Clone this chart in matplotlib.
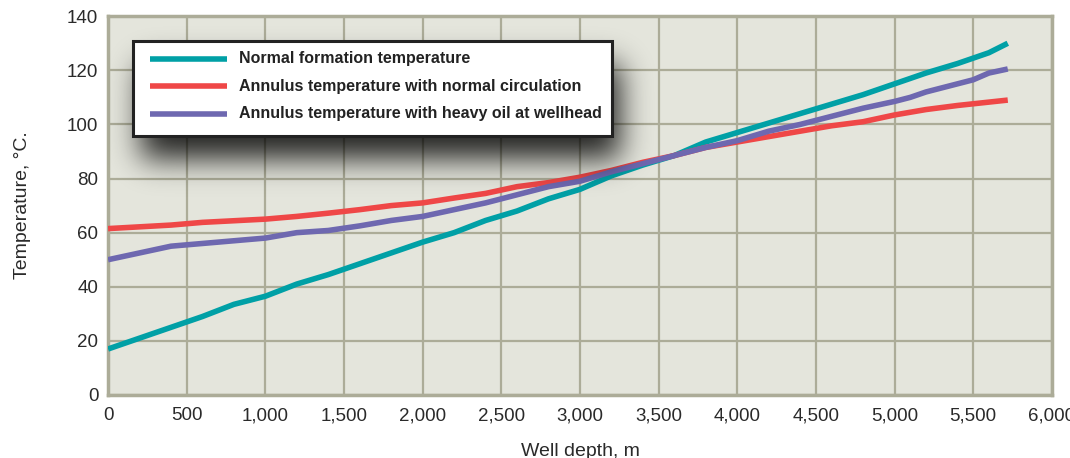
import numpy as np
import matplotlib.pyplot as plt

# dane
depth_formation = [0, 200, 400, 600, 800, 1000, 1200, 1400, 1600, 1800, 2000, 2200, 2400, 2600,
                   2800, 3000, 3200, 3400, 3600, 3800, 4000, 4200, 4400, 4600, 4800, 5000, 5200,
                   5400, 5600, 5720]
temp_formation = [17, 21, 25, 29, 33.5, 36.5, 41, 44.5, 48.5, 52.5, 56.5, 60, 64.5, 68,
                  72.5, 76, 81, 85, 88.5, 93.5, 97, 100.5, 104, 107.5, 111, 115, 119,
                  122.5, 126.5, 130]

depth_normal = [0, 400, 600, 1000, 1200, 1400, 1600, 1800, 2000, 2200, 2400, 2600, 2800, 3000,
                3200, 3400, 3600, 3800, 4000, 4200, 4400, 4600, 4800, 5000, 5200, 5400, 5720]
temp_normal = [61.5, 62.8, 63.8, 65, 66, 67.2, 68.5, 70, 71, 72.8, 74.5, 77, 78.5, 80.5,
               83, 86, 88.5, 91.5, 93.5, 95.5, 97.5, 99.5, 101, 103.5, 105.5, 107, 109]

depth_heavy = [0, 200, 400, 600, 800, 1000, 1200, 1400, 1600, 1800, 2000, 2200, 2400, 2600,
               2800, 3000, 3200, 3400, 3600, 3800, 4000, 4200, 4400, 4600, 4800, 5000, 5100,
               5200, 5400, 5500, 5600, 5720]
temp_heavy = [50, 52.5, 55, 56, 57, 58, 60, 60.8, 62.5, 64.5, 66, 68.5, 71, 74,
              77, 79, 82.5, 85.5, 88.5, 91.5, 94, 97.5, 100, 103, 106, 108.5, 110,
              112, 115, 116.5, 119, 120.5]

labels = ['Normal formation temperature',
          'Annulus temperature with normal circulation',
          'Annulus temperature with heavy oil at wellhead']
colors = ['#00a0a6', '#ef4747', '#6e68b0']

x_ticks = [0, 500, 1000, 1500, 2000, 2500, 3000, 3500, 4000, 4500, 5000, 5500, 6000]
y_ticks = [0, 20, 40, 60, 80, 100, 120, 140]

plt.rcParams['font.family'] = ['Liberation Sans', 'DejaVu Sans']

fig = plt.figure(figsize=(10.7, 4.58), dpi=100)
ax = fig.add_axes([0.101, 0.1376, 0.882, 0.827])
ax.set_facecolor('#e4e5dc')

grid_col = '#acac98'
ax.set_xticks(x_ticks)
ax.set_xticklabels(['{:,}'.format(v) for v in x_ticks])
ax.set_yticks(y_ticks)
ax.grid(True, color=grid_col, linewidth=1.6)
ax.set_axisbelow(True)
for s in ax.spines.values():
    s.set_color(grid_col)
    s.set_linewidth(2.5)
ax.tick_params(length=0, labelsize=13.5, colors='#2a2a2a')
ax.tick_params(axis='y', pad=7)
ax.tick_params(axis='x', pad=9)

ax.plot(depth_formation, temp_formation, color=colors[0], lw=4, solid_capstyle='butt', zorder=3)
ax.plot(depth_normal, temp_normal, color=colors[1], lw=4, solid_capstyle='butt', zorder=3)
ax.plot(depth_heavy, temp_heavy, color=colors[2], lw=4, solid_capstyle='butt', zorder=3)

ax.set_xlabel('Well depth, m', fontsize=14, color='#2a2a2a', labelpad=13)
ax.set_ylabel('Temperature, °C.', fontsize=14, color='#2a2a2a', labelpad=26)

# legenda (wspolrzedne osi)
lx0, ly0, lw, lh = 0.0265, 0.684, 0.508, 0.25

# rozmyty cien pod legenda - maska w pikselach + rozmycie gaussa
W, H = 944, 378.5
pad = 80
nx = int(lw * W) + 2 * pad
ny = int(lh * H) + 2 * pad
mask = np.zeros((ny, nx))
offx, offy = 8, 24
mask[pad + offy:pad + offy + int(lh * H), pad + offx:pad + offx + int(lw * W)] = 1.0
sig = 15
k = np.exp(-0.5 * (np.arange(-3 * sig, 3 * sig + 1) / sig) ** 2)
k /= k.sum()
mask = np.apply_along_axis(lambda r: np.convolve(r, k, mode='same'), 1, mask)
mask = np.apply_along_axis(lambda c: np.convolve(c, k, mode='same'), 0, mask)
rgba = np.zeros((ny, nx, 4))
rgba[..., 3] = mask * 0.85
ex0 = lx0 - pad / W
ex1 = ex0 + nx / W
ey1 = ly0 + lh + pad / H
ey0 = ey1 - ny / H
ax.imshow(rgba, extent=(ex0, ex1, ey0, ey1), transform=ax.transAxes,
          origin='upper', aspect='auto', zorder=4, interpolation='bilinear')

ax.set_xlim(0, 6000)
ax.set_ylim(0, 140)

box = plt.Rectangle((lx0, ly0), lw, lh, transform=ax.transAxes, facecolor='white',
                    edgecolor='#222222', linewidth=2.2, zorder=5)
ax.add_patch(box)
for i in range(3):
    yy = ly0 + lh - 0.046 - i * 0.0727
    ax.plot([lx0 + 0.018, lx0 + 0.1], [yy, yy], transform=ax.transAxes,
            color=colors[i], lw=4, solid_capstyle='butt', zorder=6)
    ax.text(lx0 + 0.112, yy, labels[i], transform=ax.transAxes, fontsize=11.5,
            fontweight='bold', va='center', ha='left', color='#222222', zorder=6)

plt.savefig('out.png', dpi=100)
